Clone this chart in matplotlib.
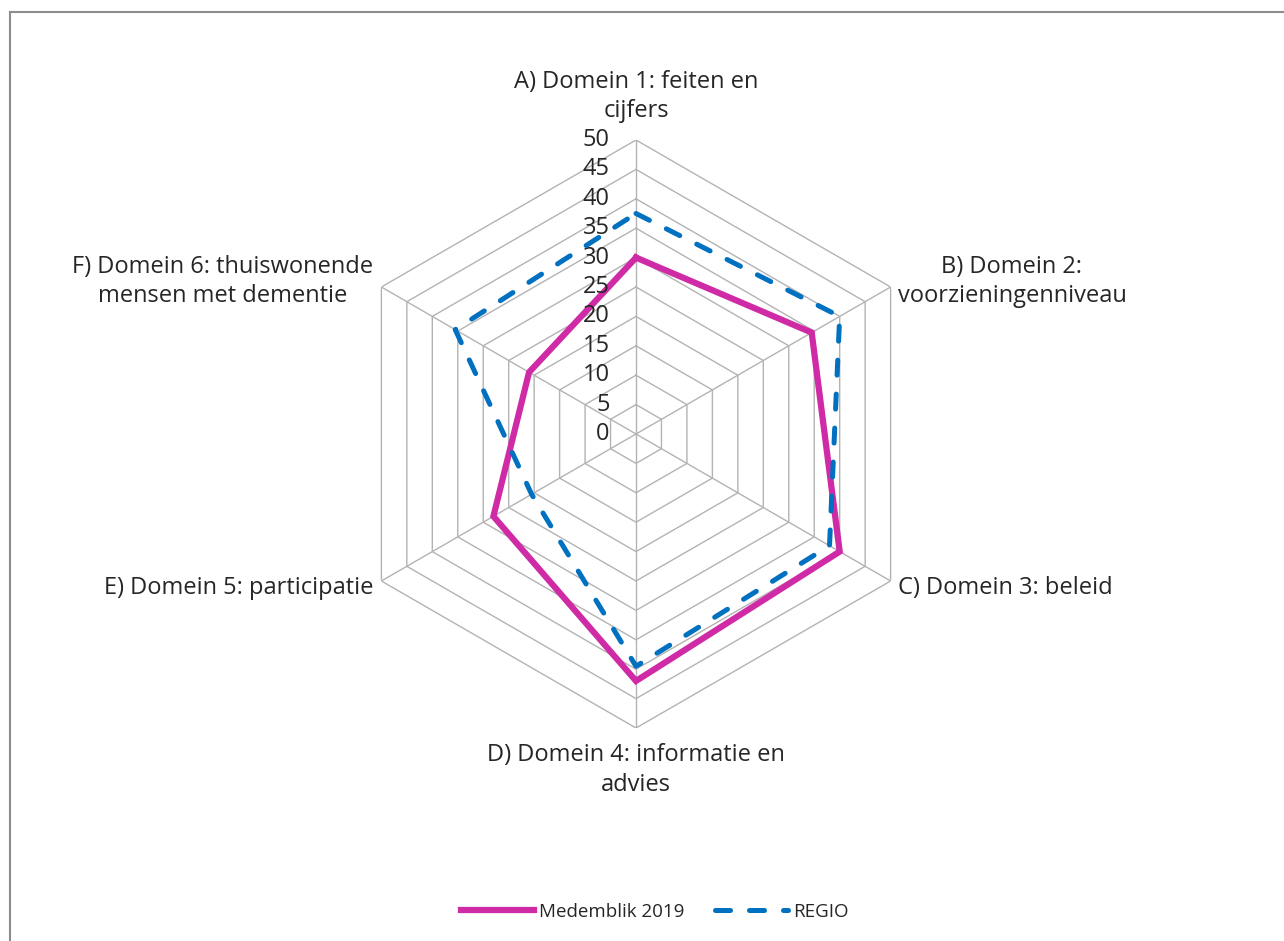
import matplotlib
matplotlib.use('Agg')
import matplotlib.pyplot as plt
import numpy as np
from matplotlib.lines import Line2D

# data
categories = ['A) Domein 1: feiten en\ncijfers',
              'B) Domein 2:\nvoorzieningenniveau',
              'C) Domein 3: beleid',
              'D) Domein 4: informatie en\nadvies',
              'E) Domein 5: participatie',
              'F) Domein 6: thuiswonende\nmensen met dementie']
medemblik = [30, 34.5, 40, 42, 28, 21]
regio = [37.5, 40, 38, 39.5, 20.5, 35.5]
r_ticks = [0, 5, 10, 15, 20, 25, 30, 35, 40, 45, 50]

plt.rcParams['font.family'] = ['Open Sans', 'DejaVu Sans']

W, H = 1284, 941
fig = plt.figure(figsize=(W/100, H/100), dpi=100)
cx, cy, R = 636, 434, 294
ax = fig.add_axes([(cx-R)/W, (H-cy-R)/H, 2*R/W, 2*R/H], projection='polar')
ax.set_theta_offset(np.pi/2)
ax.set_theta_direction(-1)
ax.set_ylim(0, 50)
ax.grid(False)
ax.spines['polar'].set_visible(False)
ax.set_xticks([])
ax.set_yticks([])
ax.patch.set_alpha(0)

n = len(categories)
ang = np.arange(n) * 2*np.pi/n
ang_c = np.append(ang, ang[0])

# hexagon grid + spokes
grid_col = '#b3b3b3'
for r in r_ticks[1:]:
    ax.plot(ang_c, [r]*(n+1), color=grid_col, lw=1.0, zorder=1)
for a in ang:
    ax.plot([a, a], [0, 50], color=grid_col, lw=1.0, zorder=1)

# series
ax.plot(ang_c, medemblik + medemblik[:1], color='#d02ba6', lw=4.5,
        solid_joinstyle='miter', zorder=3, label='Medemblik 2019')
ax.plot(ang_c, regio + regio[:1], color='#0070c0', lw=3.6, linestyle=(0, (3.0, 3.8)),
        dash_capstyle='round', zorder=4, label='REGIO')

# radial tick labels
for r in r_ticks:
    ax.annotate(str(r), xy=(0, r), xytext=(-19, 0), textcoords='offset points',
                ha='right', va='center', fontsize=17, color='#262626',
                annotation_clip=False)

# category labels
offsets = [(0, 12, 'center', 'bottom'), (5, 4, 'left', 'center'), (5, -5, 'left', 'center'),
           (0, -11, 'center', 'top'), (-6, -5, 'right', 'center'), (-6, 4, 'right', 'center')]
for a, lab, (dx, dy, ha, va) in zip(ang, categories, offsets):
    ax.annotate(lab, xy=(a, 50), xytext=(dx, dy), textcoords='offset points',
                ha=ha, va=va, multialignment='center', fontsize=17, color='#262626',
                linespacing=1.32, annotation_clip=False)

fig.legend(loc='center', bbox_to_anchor=(0.51, 0.031), ncol=2, frameon=False,
           fontsize=13.5, handlelength=3.9, columnspacing=1.6, handletextpad=0.3,
           labelcolor='#262626')

# outer frame (top and left edges)
fig.add_artist(Line2D([9.5/W, 1], [1-11.5/H, 1-11.5/H], transform=fig.transFigure,
                      color='#8c8c8c', lw=1.5))
fig.add_artist(Line2D([9.5/W, 9.5/W], [0, 1-11.5/H], transform=fig.transFigure,
                      color='#8c8c8c', lw=1.5))

fig.savefig('out.png', dpi=100, facecolor='white')
